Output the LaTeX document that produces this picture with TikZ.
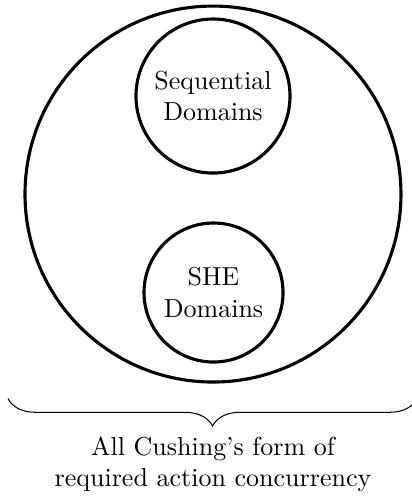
\documentclass[tikz,border=0pt]{standalone}
\usetikzlibrary{decorations.pathreplacing, positioning}
\begin{document}
\begin{tikzpicture}[
  setcircle/.style={circle, draw, very thick, inner sep=0pt, align=center},
  setbrace/.style={decorate, decoration={brace, amplitude=0.372cm, mirror}},
  ]
  \useasboundingbox (0, 0) rectangle (5.569, -6.718);

  % outer set
  \node[setcircle, minimum size=5.082cm] (all) at (2.879, -2.623) {};

  % inner sets
  \node[setcircle, minimum size=2.082cm] (seq) at (2.879, -1.298) {Sequential\\Domains};
  \node[setcircle, minimum size=1.879cm] (she) at (2.886, -3.954) {SHE\\Domains};

  % brace under the outer set
  \coordinate (bl) at (0.108, -5.387);
  \coordinate (br) at (5.637, -5.387);
  \draw[setbrace] (bl) -- (br);

  \node[align=center] (caption) at (2.879, -6.272)
    {All Cushing's form of\\required action concurrency};
\end{tikzpicture}
\end{document}
